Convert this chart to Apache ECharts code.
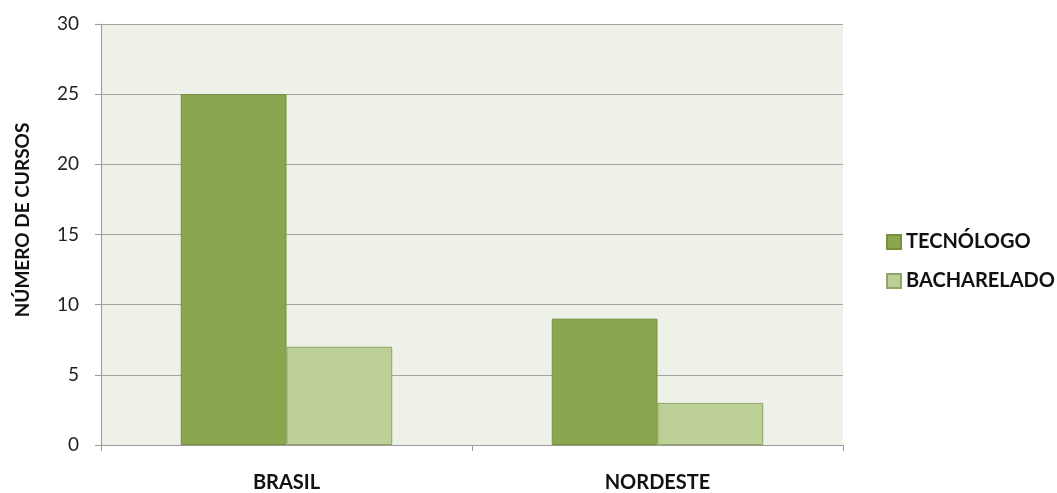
<!DOCTYPE html>
<html>
<head>
<meta charset="utf-8">
<script src="https://cdn.jsdelivr.net/npm/echarts@6/dist/echarts.min.js"></script>
<style>
  html, body { margin: 0; padding: 0; background: #ffffff; }
  #chart { width: 1057px; height: 493px; }
</style>
</head>
<body>
<div id="chart"></div>
<script>
// Course counts by region
const categories = ['BRASIL', 'NORDESTE'];
const tecnologo = [25, 9];
const bacharelado = [7, 3];
const seriesNames = ['TECNÓLOGO', 'BACHARELADO'];
const yTicks = [0, 5, 10, 15, 20, 25, 30];
const yTitle = 'NÚMERO DE CURSOS';

const FONT = 'Lato, "Open Sans", sans-serif';

const chart = echarts.init(document.getElementById('chart'));
chart.setOption({
  animation: false,
  backgroundColor: '#ffffff',
  textStyle: { fontFamily: FONT },
  grid: {
    left: 101, right: 214, top: 24, bottom: 48,
    show: true, backgroundColor: '#eef1e7', borderWidth: 0
  },
  legend: {
    orient: 'vertical',
    left: 881, top: 227,
    itemWidth: 14, itemHeight: 14, itemGap: 19,
    icon: 'rect',
    textStyle: { fontSize: 20, fontWeight: 'bold', color: '#111', fontFamily: FONT },
    data: seriesNames
  },
  // rotated y-axis title
  graphic: [{
    type: 'text',
    x: 23, y: 220,
    rotation: Math.PI / 2,
    style: {
      text: yTitle,
      fontSize: 19, fontWeight: 'bold', fill: '#111', fontFamily: FONT,
      align: 'center', verticalAlign: 'middle'
    }
  }],
  xAxis: {
    type: 'category',
    data: categories,
    axisLine: { show: true, lineStyle: { color: '#9a9a9a', width: 1 } },
    axisTick: { show: true, length: 6, lineStyle: { color: '#9a9a9a' } },
    axisLabel: { fontSize: 20, fontWeight: 'bold', color: '#111', margin: 28, fontFamily: FONT }
  },
  yAxis: {
    type: 'value',
    min: yTicks[0], max: yTicks[yTicks.length - 1], interval: 5,
    axisLine: { show: true, lineStyle: { color: '#9a9a9a', width: 1 } },
    axisTick: { show: true, length: 6, lineStyle: { color: '#9a9a9a' } },
    axisLabel: { fontSize: 19, color: '#222', margin: 22, fontFamily: FONT },
    splitLine: { show: true, lineStyle: { color: '#a3a3a3', width: 1 } }
  },
  series: [
    {
      name: seriesNames[0], type: 'bar', data: tecnologo,
      barGap: '0%', barCategoryGap: '43%',
      itemStyle: { color: '#8aa64f', borderColor: '#76913e', borderWidth: 1 }
    },
    {
      name: seriesNames[1], type: 'bar', data: bacharelado,
      barGap: '0%', barCategoryGap: '43%',
      itemStyle: { color: '#bbcf97', borderColor: '#8fa566', borderWidth: 1 }
    }
  ]
});
</script>
</body>
</html>
